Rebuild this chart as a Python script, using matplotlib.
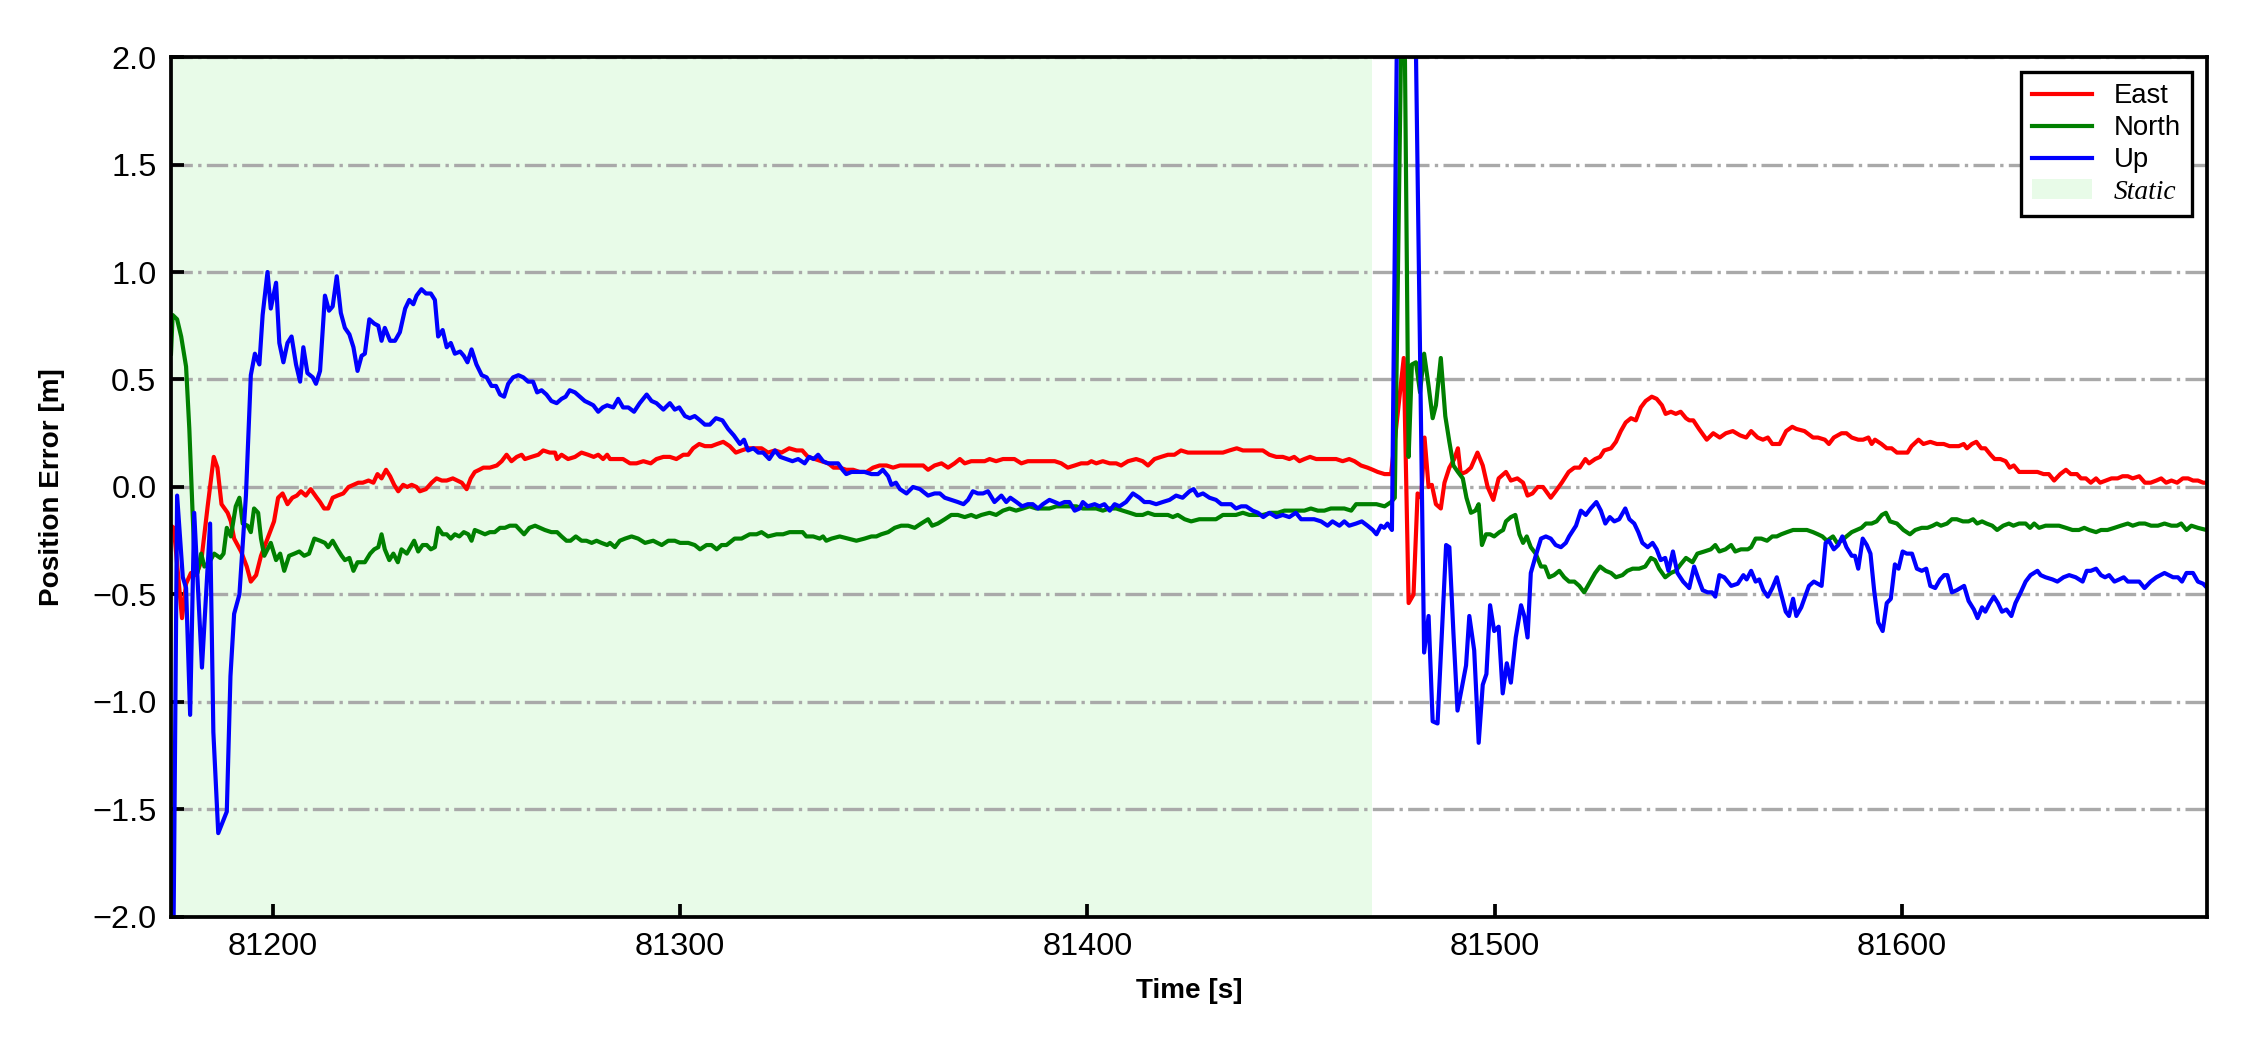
import matplotlib
matplotlib.use('Agg')
import matplotlib.pyplot as plt
from matplotlib.lines import Line2D
from matplotlib.patches import Patch

plt.rcParams['font.family'] = ['Liberation Sans', 'DejaVu Sans']

# time axis [s] and position errors [m]
east_t = [81175.0, 81175.7, 81177.7, 81178.7, 81179.9, 81181.1, 81182.4, 81184.0, 81185.5, 81186.4,
          81187.4, 81188.9, 81189.7, 81190.5, 81192.2, 81193.6, 81194.6, 81195.9, 81197.1, 81198.7,
          81200.3, 81201.3, 81202.4, 81203.6, 81204.8, 81205.9, 81206.9, 81208.1, 81209.3, 81210.8,
          81211.6, 81212.6, 81213.6, 81214.7, 81215.9, 81217.3, 81218.6, 81219.8, 81221.0, 81222.1,
          81223.5, 81224.7, 81225.7, 81226.7, 81227.8, 81228.8, 81229.8, 81230.8, 81232.0, 81233.0,
          81234.1, 81235.3, 81236.1, 81237.6, 81239.0, 81240.2, 81241.5, 81242.7, 81244.2, 81245.3,
          81246.4, 81247.6, 81248.6, 81249.6, 81250.7, 81251.7, 81253.3, 81255.0, 81256.2, 81257.4,
          81258.6, 81259.9, 81261.1, 81261.9, 81263.5, 81265.2, 81266.4, 81268.0, 81269.3, 81269.8,
          81270.9, 81272.5, 81274.2, 81275.8, 81277.4, 81278.8, 81279.9, 81281.1, 81282.1,
          81282.8, 81284.4, 81286.0, 81287.7, 81289.3, 81291.0, 81292.8, 81294.2, 81295.9, 81297.5,
          81299.1, 81300.8, 81302.0, 81303.2, 81304.7, 81306.1, 81307.7, 81309.1, 81310.6, 81312.2,
          81313.7, 81315.1, 81316.7, 81318.4, 81320.0, 81321.6, 81323.3, 81324.9, 81326.8, 81328.6,
          81330.0, 81331.4, 81333.1, 81334.7, 81336.4, 81337.7, 81339.2, 81340.8, 81342.5, 81344.1,
          81345.8, 81347.4, 81349.0, 81350.7, 81352.3, 81354.0, 81356.0, 81358.0, 81359.7, 81360.9,
          81362.5, 81364.2, 81365.8, 81367.4, 81368.7, 81369.9, 81371.5, 81373.2, 81374.8,
          81376.0, 81377.6, 81379.3, 81380.9, 81382.1, 81383.8, 81385.4, 81387.0, 81388.7, 81390.3,
          81392.0, 81393.6, 81395.2, 81396.9, 81398.5, 81400.1, 81401.0, 81402.2, 81403.8, 81405.5,
          81407.1, 81408.3, 81410.0, 81412.0, 81413.6, 81414.9, 81416.5, 81418.1, 81419.8, 81421.4,
          81423.0, 81424.7, 81426.7, 81428.8, 81430.8, 81433.3, 81434.9, 81436.7, 81438.2, 81439.8,
          81441.4, 81443.1, 81444.7, 81446.4, 81448.0, 81449.6, 81450.8, 81452.1, 81453.3, 81454.7,
          81456.2, 81457.8, 81459.4, 81461.1, 81462.7, 81464.3, 81465.6, 81467.2, 81468.8,
          81470.1, 81471.3, 81473.0, 81474.6, 81475.8, 81477.7, 81478.9, 81480.1, 81481.1, 81482.0,
          81482.8, 81483.8, 81484.6, 81485.6, 81486.8, 81487.7, 81488.9, 81490.1, 81491.0, 81491.7,
          81493.0, 81494.2, 81495.8, 81497.1, 81498.3, 81499.7, 81501.0, 81502.8, 81504.0, 81505.6,
          81507.0, 81508.1, 81509.3, 81510.6, 81511.9, 81513.8, 81515.0, 81516.5, 81518.2, 81519.6,
          81520.9, 81522.3, 81523.2, 81524.7, 81525.9, 81526.9, 81528.6, 81529.8, 81531.0, 81532.2,
          81533.5, 81534.7, 81535.9, 81537.1, 81538.6, 81539.8, 81541.1, 81542.0, 81543.3, 81544.5,
          81545.7, 81547.0,
          81547.8, 81548.8, 81550.2, 81552.1, 81553.7, 81555.3, 81556.8, 81558.5, 81560.3, 81561.8,
          81563.0, 81564.6, 81565.9, 81567.1, 81568.2, 81570.0, 81571.6, 81573.1, 81574.1, 81576.1,
          81578.2, 81579.4, 81581.1, 81582.1, 81583.3, 81585.2, 81586.4, 81587.7, 81589.3, 81590.5,
          81591.8, 81592.6, 81593.4, 81595.0, 81596.3, 81597.5, 81598.8, 81600.0, 81601.4, 81602.4,
          81604.1, 81605.3, 81607.0, 81608.6, 81610.3, 81611.7, 81614.0, 81615.2, 81616.0, 81617.2,
          81618.3, 81619.5, 81620.5, 81621.8, 81622.8, 81624.2, 81625.5, 81626.5, 81627.5, 81628.8,
          81629.8, 81631.6, 81633.3, 81634.8, 81636.1, 81637.4, 81638.9, 81640.3, 81641.5, 81643.0,
          81644.0, 81645.2, 81646.4, 81647.7, 81648.7, 81650.1, 81651.5, 81653.0, 81654.2, 81655.5,
          81656.7, 81658.3, 81659.7, 81661.1, 81662.5, 81663.7, 81664.9, 81666.2, 81667.6, 81669.0,
          81670.3, 81671.5, 81672.7, 81674.0, 81674.8]
east_v = [-0.18, -0.19, -0.61, -0.45, -0.40, -0.41, -0.35, -0.09, 0.14, 0.09,
          -0.08, -0.12, -0.16, -0.24, -0.30, -0.37, -0.44, -0.41, -0.32, -0.24,
          -0.16, -0.05, -0.03, -0.08, -0.05, -0.04, -0.02, -0.04, -0.01, -0.05,
          -0.07, -0.10, -0.10, -0.05, -0.04, -0.03, 0.00, 0.01, 0.02, 0.02,
          0.03, 0.02, 0.06, 0.04, 0.08, 0.05, 0.01, -0.02, 0.01, 0.00,
          0.01, 0.00, -0.02, -0.01, 0.02, 0.04, 0.03, 0.03, 0.04, 0.03,
          0.02, -0.01, 0.04, 0.07, 0.08, 0.09, 0.09, 0.10, 0.12, 0.15,
          0.12, 0.14, 0.15, 0.13, 0.14, 0.15, 0.17, 0.16, 0.16, 0.13,
          0.15, 0.13, 0.14, 0.16, 0.15, 0.14, 0.15, 0.13, 0.15,
          0.13, 0.13, 0.13, 0.11, 0.11, 0.12, 0.11, 0.13, 0.14, 0.14,
          0.13, 0.15, 0.15, 0.18, 0.20, 0.19, 0.19, 0.20, 0.21, 0.19,
          0.16, 0.17, 0.18, 0.18, 0.18, 0.16, 0.17, 0.16, 0.18, 0.17,
          0.17, 0.14, 0.13, 0.12, 0.11, 0.09, 0.09, 0.08, 0.08, 0.07,
          0.07, 0.09, 0.10, 0.10, 0.09, 0.10, 0.10, 0.10, 0.10, 0.08,
          0.10, 0.11, 0.09, 0.11, 0.13, 0.11, 0.12, 0.12, 0.12,
          0.13, 0.12, 0.13, 0.13, 0.13, 0.11, 0.12, 0.12, 0.12, 0.12,
          0.12, 0.11, 0.09, 0.10, 0.11, 0.11, 0.12, 0.11, 0.12, 0.11,
          0.11, 0.10, 0.12, 0.13, 0.12, 0.10, 0.13, 0.14, 0.15, 0.15,
          0.17, 0.16, 0.16, 0.16, 0.16, 0.16, 0.17, 0.18, 0.17, 0.17,
          0.17, 0.17, 0.15, 0.14, 0.14, 0.13, 0.14, 0.12, 0.13, 0.14,
          0.13, 0.13, 0.13, 0.13, 0.12, 0.13, 0.12, 0.10, 0.09,
          0.08, 0.07, 0.06, 0.06, 0.27, 0.60, -0.54, -0.50, -0.03, -0.05,
          0.23, 0.00, 0.01, -0.08, -0.10, 0.02, 0.09, 0.13, 0.18, 0.06,
          0.07, 0.09, 0.16, 0.10, 0.00, -0.06, 0.04, 0.07, 0.03, 0.04,
          0.02, -0.04, -0.03, 0.00, 0.00, -0.05, -0.02, 0.02, 0.07, 0.09,
          0.09, 0.13, 0.11, 0.13, 0.14, 0.17, 0.18, 0.21, 0.26, 0.30,
          0.32, 0.31, 0.37, 0.40, 0.42, 0.41, 0.38, 0.34, 0.35, 0.34,
          0.35, 0.32,
          0.31, 0.31, 0.27, 0.22, 0.25, 0.23, 0.25, 0.26, 0.24, 0.23,
          0.26, 0.23, 0.22, 0.23, 0.20, 0.20, 0.26, 0.28, 0.27, 0.26,
          0.23, 0.23, 0.22, 0.20, 0.23, 0.25, 0.25, 0.23, 0.22, 0.22,
          0.23, 0.20, 0.22, 0.20, 0.18, 0.18, 0.16, 0.16, 0.16, 0.19,
          0.22, 0.20, 0.21, 0.20, 0.20, 0.19, 0.19, 0.20, 0.18, 0.20,
          0.21, 0.18, 0.18, 0.15, 0.13, 0.13, 0.12, 0.09, 0.10, 0.07,
          0.07, 0.07, 0.07, 0.06, 0.06, 0.03, 0.06, 0.08, 0.06, 0.06,
          0.04, 0.04, 0.02, 0.04, 0.02, 0.03, 0.04, 0.04, 0.05, 0.05,
          0.04, 0.05, 0.02, 0.02, 0.03, 0.04, 0.02, 0.03, 0.02, 0.04,
          0.04, 0.03, 0.03, 0.02, 0.02]

north_t = [81175.0, 81175.4, 81176.5, 81177.5, 81178.7, 81179.5, 81180.3, 81180.9, 81181.5, 81182.4,
           81183.2, 81184.4, 81185.6, 81187.1, 81187.9, 81188.7, 81189.7, 81190.9, 81191.8, 81192.6,
           81193.8, 81194.6, 81195.4, 81196.4, 81197.1, 81197.9, 81199.5, 81200.8, 81201.8, 81202.8,
           81204.0, 81205.3, 81206.5, 81207.7, 81208.9, 81210.2,
           81211.6, 81212.8, 81213.6, 81214.7, 81215.9, 81216.9, 81217.7, 81218.8, 81219.8, 81220.8,
           81221.8, 81222.6, 81223.9, 81224.9, 81225.9, 81226.7, 81227.5, 81228.6, 81229.6, 81230.7,
           81231.6, 81232.9, 81233.8, 81234.7, 81235.7, 81236.8, 81237.8, 81238.8, 81239.8, 81240.6,
           81241.7, 81242.7, 81243.7, 81244.7, 81245.8, 81246.9, 81248.0, 81248.8, 81249.6, 81250.9,
           81252.1, 81253.3, 81254.5, 81255.8, 81257.0, 81258.2, 81259.7, 81260.7, 81261.7, 81263.0,
           81264.4, 81265.6, 81266.8, 81268.4, 81269.8, 81270.9, 81272.1, 81273.1, 81274.4, 81275.8,
           81277.0, 81278.3, 81279.5, 81280.7, 81282.1,
           81282.8, 81284.0, 81285.2, 81286.5, 81288.1, 81289.7, 81291.4, 81293.4, 81295.5, 81297.1,
           81298.7, 81300.0, 81302.0, 81303.6, 81304.9, 81306.5, 81307.7, 81309.0, 81310.2, 81311.4,
           81313.4, 81315.1, 81317.1, 81318.8, 81320.0, 81321.6, 81323.7, 81325.3, 81326.9, 81328.6,
           81330.1, 81331.0, 81332.7, 81334.3, 81335.1, 81335.9, 81337.2, 81339.2, 81341.3, 81343.3,
           81345.3, 81347.0, 81348.2, 81349.4, 81351.1, 81352.7, 81354.3, 81356.0, 81357.6, 81359.2,
           81360.9, 81361.9, 81363.3, 81365.0, 81366.6, 81368.2, 81369.9, 81371.5, 81372.7, 81374.0,
           81376.0, 81377.6, 81379.3, 81380.9, 81382.5, 81384.2, 81385.8, 81387.5, 81389.1, 81390.7,
           81392.4, 81394.0, 81395.6, 81397.3, 81398.9, 81400.5, 81402.2, 81403.8, 81405.4, 81407.1,
           81408.7, 81410.4, 81412.0, 81413.6, 81414.9, 81416.5, 81418.1, 81419.8, 81421.0, 81422.2,
           81423.9, 81425.5, 81427.5, 81429.6, 81431.6, 81433.3, 81434.9, 81436.5, 81438.2, 81439.8,
           81441.4, 81443.1, 81445.1, 81446.8, 81448.4, 81450.0, 81451.7, 81453.3, 81454.9, 81456.6,
           81458.2, 81459.8, 81461.5, 81463.1, 81464.8, 81466.0, 81467.6, 81469.3,
           81471.0, 81473.0, 81474.6, 81475.5, 81477.6, 81478.9, 81479.7, 81480.7, 81481.7, 81482.7,
           81483.8, 81484.8, 81485.6, 81486.8, 81487.9, 81488.9, 81489.9, 81491.0, 81492.2, 81493.1,
           81494.2, 81495.3, 81496.1, 81496.9, 81497.9, 81498.9, 81499.9, 81501.2, 81502.1, 81502.8,
           81504.0, 81505.1, 81506.1, 81507.0, 81507.9, 81508.9, 81510.1, 81511.4, 81512.4, 81513.4,
           81514.6, 81515.9, 81517.1, 81518.3, 81519.6, 81520.8, 81522.0, 81523.2, 81524.7, 81525.9,
           81527.3, 81528.6, 81529.8, 81531.4, 81532.6, 81533.9, 81535.5, 81537.0, 81538.4, 81539.4,
           81540.4, 81541.9, 81543.3, 81544.5, 81545.7, 81547.0,
           81547.8, 81548.6, 81549.8, 81551.5, 81553.1, 81554.2, 81555.2, 81556.7, 81558.1, 81559.1,
           81560.5, 81562.2, 81563.0, 81564.1, 81565.5, 81566.9, 81568.2, 81569.3, 81570.4, 81571.8,
           81573.3, 81575.3, 81576.7, 81578.2, 81579.4, 81580.5, 81581.6, 81583.1, 81584.1, 81585.2,
           81586.4, 81587.7, 81588.9, 81590.1, 81591.2, 81592.6, 81593.8, 81595.1, 81596.1, 81597.1,
           81598.8, 81600.4, 81602.0, 81603.3, 81604.9, 81606.3, 81607.6, 81608.6, 81609.6, 81611.1,
           81612.3, 81613.5, 81615.0, 81616.4, 81617.5, 81618.5, 81619.7, 81620.8, 81622.2, 81623.4,
           81624.9, 81626.3, 81627.4, 81628.8, 81630.4, 81631.5, 81632.5, 81633.7, 81635.3, 81637.0,
           81638.6, 81640.3, 81641.9, 81643.5, 81644.8, 81646.0, 81647.7, 81648.9, 81650.5, 81652.2,
           81653.8, 81655.5, 81656.7, 81658.3, 81659.7, 81661.2, 81662.9, 81664.5, 81666.2, 81667.6,
           81668.6, 81669.9, 81671.1, 81672.7, 81674.8]
north_v = [0.62, 0.80, 0.78, 0.70, 0.56, 0.27, -0.12, -0.39, -0.40, -0.31,
           -0.37, -0.35, -0.31, -0.33, -0.31, -0.19, -0.23, -0.09, -0.05, -0.17,
           -0.18, -0.21, -0.10, -0.12, -0.24, -0.32, -0.26, -0.34, -0.31, -0.39,
           -0.32, -0.31, -0.30, -0.32, -0.31, -0.24,
           -0.25, -0.26, -0.28, -0.25, -0.29, -0.32, -0.34, -0.33, -0.39, -0.35,
           -0.35, -0.35, -0.31, -0.29, -0.28, -0.22, -0.29, -0.34, -0.31, -0.35,
           -0.29, -0.31, -0.28, -0.25, -0.30, -0.27, -0.27, -0.29, -0.28, -0.19,
           -0.22, -0.22, -0.24, -0.22, -0.23, -0.21, -0.22, -0.25, -0.20, -0.21,
           -0.22, -0.21, -0.21, -0.19, -0.19, -0.18, -0.18, -0.20, -0.22, -0.19,
           -0.18, -0.19, -0.20, -0.21, -0.21, -0.23, -0.25, -0.25, -0.23, -0.25,
           -0.25, -0.26, -0.25, -0.26, -0.27,
           -0.26, -0.28, -0.25, -0.24, -0.23, -0.24, -0.26, -0.25, -0.27, -0.25,
           -0.25, -0.26, -0.26, -0.27, -0.29, -0.27, -0.27, -0.29, -0.27, -0.27,
           -0.24, -0.24, -0.22, -0.22, -0.21, -0.23, -0.22, -0.22, -0.21, -0.21,
           -0.21, -0.23, -0.23, -0.24, -0.23, -0.25, -0.24, -0.23, -0.24, -0.25,
           -0.24, -0.23, -0.23, -0.22, -0.21, -0.19, -0.18, -0.18, -0.19, -0.17,
           -0.15, -0.18, -0.17, -0.15, -0.13, -0.13, -0.14, -0.13, -0.14, -0.13,
           -0.12, -0.13, -0.11, -0.10, -0.11, -0.10, -0.09, -0.10, -0.10, -0.10,
           -0.09, -0.09, -0.09, -0.09, -0.10, -0.10, -0.10, -0.11, -0.10, -0.10,
           -0.11, -0.12, -0.13, -0.13, -0.12, -0.13, -0.13, -0.13, -0.14, -0.13,
           -0.15, -0.16, -0.15, -0.15, -0.15, -0.13, -0.13, -0.13, -0.12, -0.13,
           -0.13, -0.13, -0.12, -0.12, -0.11, -0.11, -0.11, -0.11, -0.10, -0.11,
           -0.11, -0.10, -0.10, -0.10, -0.11, -0.08, -0.08, -0.08,
           -0.08, -0.09, -0.07, -0.05, 2.80, 0.14, 0.57, 0.58, 0.44, 0.62,
           0.47, 0.32, 0.38, 0.60, 0.33, 0.21, 0.10, 0.07, 0.04, -0.05,
           -0.12, -0.11, -0.08, -0.27, -0.22, -0.22, -0.23, -0.21, -0.20, -0.16,
           -0.14, -0.13, -0.22, -0.26, -0.23, -0.28, -0.31, -0.37, -0.37, -0.42,
           -0.41, -0.39, -0.42, -0.44, -0.44, -0.46, -0.49, -0.45, -0.40, -0.37,
           -0.39, -0.40, -0.42, -0.41, -0.39, -0.38, -0.38, -0.37, -0.33, -0.34,
           -0.38, -0.42, -0.40, -0.39, -0.36, -0.33,
           -0.34, -0.35, -0.31, -0.30, -0.29, -0.27, -0.30, -0.29, -0.27, -0.30,
           -0.29, -0.29, -0.28, -0.24, -0.24, -0.25, -0.23, -0.23, -0.22, -0.21,
           -0.20, -0.20, -0.20, -0.21, -0.22, -0.23, -0.25, -0.23, -0.26, -0.25,
           -0.23, -0.21, -0.20, -0.19, -0.17, -0.17, -0.16, -0.13, -0.12, -0.16,
           -0.17, -0.20, -0.22, -0.20, -0.19, -0.19, -0.18, -0.17, -0.18, -0.17,
           -0.15, -0.15, -0.16, -0.16, -0.15, -0.17, -0.16, -0.17, -0.18, -0.20,
           -0.18, -0.17, -0.18, -0.17, -0.17, -0.19, -0.17, -0.19, -0.18, -0.18,
           -0.18, -0.19, -0.20, -0.20, -0.19, -0.20, -0.21, -0.20, -0.20, -0.19,
           -0.18, -0.17, -0.18, -0.17, -0.17, -0.18, -0.18, -0.17, -0.18, -0.18,
           -0.17, -0.20, -0.18, -0.19, -0.20]

up_t = [81175.0, 81176.5, 81177.9, 81178.7, 81179.7, 81180.7, 81182.6, 81184.6, 81185.4, 81186.6,
        81188.7, 81189.6, 81190.5, 81191.8, 81193.4, 81194.6, 81195.6, 81196.7, 81197.5, 81198.7,
        81199.5, 81200.8, 81201.6, 81202.6, 81203.6, 81204.6, 81205.7, 81206.7, 81207.5, 81208.5,
        81209.8, 81210.6,
        81211.6, 81212.8, 81213.8, 81214.7, 81215.7, 81216.7, 81217.7, 81218.8, 81219.8, 81220.8,
        81221.8, 81222.6, 81223.7, 81224.9, 81225.9, 81226.7, 81227.5, 81228.8, 81230.0, 81231.2,
        81232.5, 81233.5, 81234.5, 81235.3, 81236.5, 81237.6, 81238.8, 81239.8, 81240.6, 81241.7,
        81242.7, 81243.7, 81244.7, 81246.0, 81246.9, 81247.8, 81248.8, 81250.0, 81251.3, 81252.5,
        81253.7, 81254.8, 81255.8, 81256.8, 81257.8, 81259.0, 81260.3, 81261.5, 81262.7, 81263.9,
        81264.9, 81266.0, 81267.2, 81268.4, 81269.7, 81270.9, 81271.9, 81272.9, 81274.2, 81275.4,
        81276.6, 81277.7, 81278.7, 81279.9, 81281.0, 81282.1,
        81283.6, 81284.8, 81286.0, 81287.3, 81288.7, 81290.1, 81291.8, 81293.0, 81294.2, 81295.9,
        81297.5, 81298.7, 81299.8, 81301.2, 81302.4, 81303.6, 81304.9, 81306.1, 81307.3, 81308.8,
        81310.4, 81311.8, 81313.2, 81314.7, 81315.7, 81316.7, 81318.0, 81319.2, 81320.4, 81321.9,
        81323.3, 81324.6, 81326.1, 81327.6, 81329.0, 81330.6, 81331.7, 81332.8, 81333.9, 81335.1,
        81336.3, 81337.6, 81338.8, 81339.9, 81340.8, 81342.1, 81343.7, 81345.3, 81347.0, 81348.6,
        81349.8, 81351.1, 81351.9, 81353.0, 81354.0, 81355.6, 81357.2, 81358.9, 81360.9, 81362.5,
        81363.8, 81365.0, 81366.6, 81368.2, 81369.6, 81370.7, 81371.9, 81373.1, 81374.4, 81375.6,
        81377.2, 81378.9, 81380.1, 81381.1, 81382.6, 81384.0, 81385.4, 81386.6, 81387.9, 81389.1,
        81390.7, 81392.0, 81393.2, 81394.4, 81395.6, 81396.9, 81398.1, 81398.9, 81400.1, 81401.8,
        81403.0, 81404.2, 81405.5, 81406.7, 81407.9, 81409.5, 81411.2, 81412.8, 81414.0, 81415.3,
        81416.9, 81418.5, 81420.2, 81421.8, 81423.4, 81425.1, 81426.1, 81427.1, 81428.4, 81430.0,
        81431.6, 81432.9, 81434.1, 81435.3, 81436.5, 81437.8, 81439.0, 81440.6, 81441.9, 81443.2,
        81444.7, 81446.4, 81448.0, 81449.6, 81451.2, 81452.5, 81454.1, 81455.7, 81457.4, 81459.0,
        81460.2, 81461.9, 81463.1, 81464.3, 81466.0, 81467.4, 81468.8,
        81470.1, 81471.0, 81472.1, 81472.9, 81473.7, 81474.8, 81476.5, 81478.5, 81480.0, 81482.7,
        81483.8, 81484.8, 81486.0, 81488.1, 81488.9, 81489.9, 81490.9, 81492.0, 81493.0, 81493.8,
        81495.0, 81496.1, 81497.1, 81498.0, 81498.9, 81499.9, 81501.0, 81502.0, 81503.0, 81504.0,
        81505.2, 81506.5, 81507.3, 81508.1, 81508.9, 81510.1, 81511.4, 81512.6, 81513.8, 81515.0,
        81516.3, 81517.5, 81518.3, 81520.0, 81521.2, 81522.4, 81523.6, 81525.0, 81526.1, 81527.2,
        81528.3, 81529.4, 81530.6, 81532.1, 81533.1, 81534.3, 81535.3, 81536.3, 81537.6, 81538.8,
        81539.8, 81540.8, 81541.9, 81542.7, 81543.8, 81544.9, 81546.3,
        81547.8, 81549.0, 81550.1, 81551.1, 81552.3, 81553.4, 81554.2, 81555.2, 81556.4, 81558.1,
        81559.7, 81561.1, 81561.9, 81563.0, 81564.1, 81565.0, 81566.0, 81567.1, 81568.2, 81569.3,
        81570.4, 81571.5, 81572.3, 81573.3, 81574.1, 81575.3, 81577.2, 81578.4, 81580.3, 81581.3,
        81582.1, 81583.3, 81584.4, 81585.4, 81586.4, 81587.7, 81588.5, 81589.3, 81590.4, 81591.4,
        81592.3, 81593.2, 81594.2, 81595.3, 81596.3, 81597.3, 81598.3, 81599.2, 81600.2, 81601.2,
        81602.5, 81603.7, 81604.9, 81606.0, 81607.0, 81608.2, 81609.4, 81610.4, 81611.2, 81612.3,
        81613.5, 81615.3, 81616.4, 81617.7, 81618.6, 81619.7, 81620.5, 81621.6, 81622.6, 81623.6,
        81624.6, 81625.7, 81626.9, 81627.9, 81629.2, 81630.4, 81631.6, 81633.3, 81634.1, 81635.3,
        81637.0, 81638.2, 81639.7, 81641.1, 81642.7, 81644.4, 81645.4, 81646.4, 81647.7, 81648.9,
        81649.9, 81650.9, 81652.2, 81653.4, 81654.5, 81655.5, 81656.7, 81658.3, 81659.6, 81661.1,
        81662.5, 81664.5, 81666.6, 81667.8, 81668.8, 81669.9, 81671.5, 81672.7, 81674.0, 81675.0]
up_v = [-3.50, -0.04, -0.42, -0.47, -1.06, -0.12, -0.84, -0.17, -1.14, -1.61,
        -1.51, -0.88, -0.59, -0.50, -0.04, 0.52, 0.62, 0.57, 0.80, 1.00,
        0.83, 0.95, 0.67, 0.58, 0.67, 0.70, 0.57, 0.49, 0.65, 0.53,
        0.51, 0.48,
        0.54, 0.89, 0.82, 0.84, 0.98, 0.81, 0.74, 0.71, 0.65, 0.54,
        0.61, 0.62, 0.78, 0.76, 0.75, 0.68, 0.74, 0.68, 0.68, 0.72,
        0.83, 0.87, 0.85, 0.89, 0.92, 0.90, 0.90, 0.87, 0.70, 0.73,
        0.65, 0.67, 0.62, 0.63, 0.61, 0.58, 0.64, 0.57, 0.52, 0.51,
        0.47, 0.47, 0.43, 0.42, 0.48, 0.51, 0.52, 0.51, 0.49, 0.49,
        0.44, 0.45, 0.43, 0.40, 0.39, 0.41, 0.42, 0.45, 0.44, 0.42,
        0.40, 0.39, 0.38, 0.35, 0.37, 0.38,
        0.37, 0.41, 0.37, 0.37, 0.35, 0.39, 0.43, 0.40, 0.39, 0.36,
        0.39, 0.36, 0.37, 0.33, 0.32, 0.33, 0.31, 0.29, 0.29, 0.32,
        0.31, 0.27, 0.24, 0.20, 0.22, 0.17, 0.18, 0.16, 0.16, 0.13,
        0.17, 0.14, 0.13, 0.12, 0.13, 0.11, 0.14, 0.13, 0.15, 0.12,
        0.11, 0.11, 0.11, 0.08, 0.06, 0.07, 0.07, 0.07, 0.06, 0.06,
        0.08, 0.05, 0.01, 0.02, -0.01, -0.03, 0.00, -0.01, -0.04, -0.03,
        -0.03, -0.05, -0.06, -0.07, -0.08, -0.06, -0.02, -0.03, -0.03, -0.02,
        -0.07, -0.04, -0.07, -0.05, -0.07, -0.09, -0.08, -0.08, -0.10, -0.08,
        -0.06, -0.07, -0.08, -0.07, -0.07, -0.11, -0.10, -0.07, -0.09, -0.08,
        -0.09, -0.08, -0.11, -0.08, -0.09, -0.07, -0.03, -0.05, -0.07, -0.07,
        -0.08, -0.07, -0.06, -0.04, -0.05, -0.02, -0.01, -0.04, -0.03, -0.05,
        -0.06, -0.08, -0.08, -0.08, -0.10, -0.09, -0.09, -0.11, -0.12, -0.14,
        -0.12, -0.14, -0.13, -0.14, -0.12, -0.15, -0.15, -0.15, -0.16, -0.18,
        -0.16, -0.18, -0.16, -0.18, -0.17, -0.16, -0.18,
        -0.20, -0.22, -0.18, -0.19, -0.17, -0.20, 3.00, 4.00, 3.00, -0.77,
        -0.60, -1.09, -1.10, -0.27, -0.28, -0.68, -1.04, -0.93, -0.83, -0.60,
        -0.76, -1.19, -0.92, -0.87, -0.55, -0.67, -0.65, -0.96, -0.82, -0.91,
        -0.70, -0.55, -0.60, -0.70, -0.40, -0.32, -0.24, -0.23, -0.24, -0.27,
        -0.28, -0.26, -0.23, -0.18, -0.11, -0.13, -0.10, -0.07, -0.11, -0.17,
        -0.14, -0.16, -0.15, -0.10, -0.15, -0.17, -0.21, -0.26, -0.28, -0.26,
        -0.29, -0.34, -0.33, -0.39, -0.30, -0.40, -0.44,
        -0.47, -0.37, -0.43, -0.48, -0.49, -0.49, -0.51, -0.41, -0.42, -0.46,
        -0.45, -0.41, -0.43, -0.39, -0.44, -0.43, -0.48, -0.51, -0.47, -0.42,
        -0.50, -0.58, -0.60, -0.52, -0.60, -0.56, -0.46, -0.44, -0.46, -0.26,
        -0.25, -0.29, -0.27, -0.23, -0.28, -0.32, -0.32, -0.38, -0.24, -0.27,
        -0.31, -0.48, -0.63, -0.67, -0.54, -0.52, -0.36, -0.38, -0.30, -0.31,
        -0.31, -0.38, -0.39, -0.38, -0.46, -0.47, -0.43, -0.41, -0.41, -0.49,
        -0.48, -0.46, -0.53, -0.57, -0.61, -0.56, -0.58, -0.54, -0.51, -0.54,
        -0.58, -0.57, -0.60, -0.54, -0.49, -0.44, -0.41, -0.39, -0.41, -0.42,
        -0.43, -0.44, -0.42, -0.41, -0.42, -0.44, -0.39, -0.39, -0.38, -0.41,
        -0.42, -0.41, -0.44, -0.43, -0.42, -0.44, -0.44, -0.44, -0.47, -0.44,
        -0.42, -0.40, -0.42, -0.42, -0.44, -0.40, -0.40, -0.44, -0.45, -0.47]

static_start = 81175
static_end = 81470
x_ticks = [81200, 81300, 81400, 81500, 81600]
y_ticks = [-2.0, -1.5, -1.0, -0.5, 0.0, 0.5, 1.0, 1.5, 2.0]

fig = plt.figure(figsize=(7.5, 3.5), dpi=300)
ax = fig.add_axes([0.076, 0.1267, 0.905, 0.819])

ax.axvspan(static_start, static_end, color='lightgreen', alpha=0.2, lw=0)
ax.plot(east_t, east_v, color='red', lw=1.0)
ax.plot(north_t, north_v, color='green', lw=1.0)
ax.plot(up_t, up_v, color='blue', lw=1.0)

ax.set_xlim(81175, 81675)
ax.set_ylim(-2, 2)
ax.set_xticks(x_ticks)
ax.set_yticks(y_ticks)
ax.yaxis.grid(True, linestyle='-.', color='darkgray', lw=0.8)

ax.tick_params(direction='in', length=3.2, width=0.9, labelsize=7.8, top=False, right=False)
for s in ax.spines.values():
    s.set_linewidth(0.9)

ax.set_xlabel('Time [s]', fontsize=6.7, fontweight='bold')
ax.set_ylabel('Position Error [m]', fontsize=6.7, fontweight='bold')
ax.xaxis.set_label_coords(0.5, -0.071)
ax.yaxis.set_label_coords(-0.052, 0.5)

handles = [Line2D([], [], color='red', lw=1.0),
           Line2D([], [], color='green', lw=1.0),
           Line2D([], [], color='blue', lw=1.0),
           Patch(facecolor='lightgreen', alpha=0.2, lw=0)]
leg = ax.legend(handles, ['East', 'North', 'Up', 'Static'], loc='upper right',
                fontsize=6.6, fancybox=False, framealpha=1, edgecolor='black',
                borderaxespad=0.55, labelspacing=0.22, handlelength=2.2)
leg.get_frame().set_linewidth(0.8)
leg.get_texts()[3].set_family('Liberation Serif')
leg.get_texts()[3].set_style('italic')

fig.savefig('out.png', dpi=300)
